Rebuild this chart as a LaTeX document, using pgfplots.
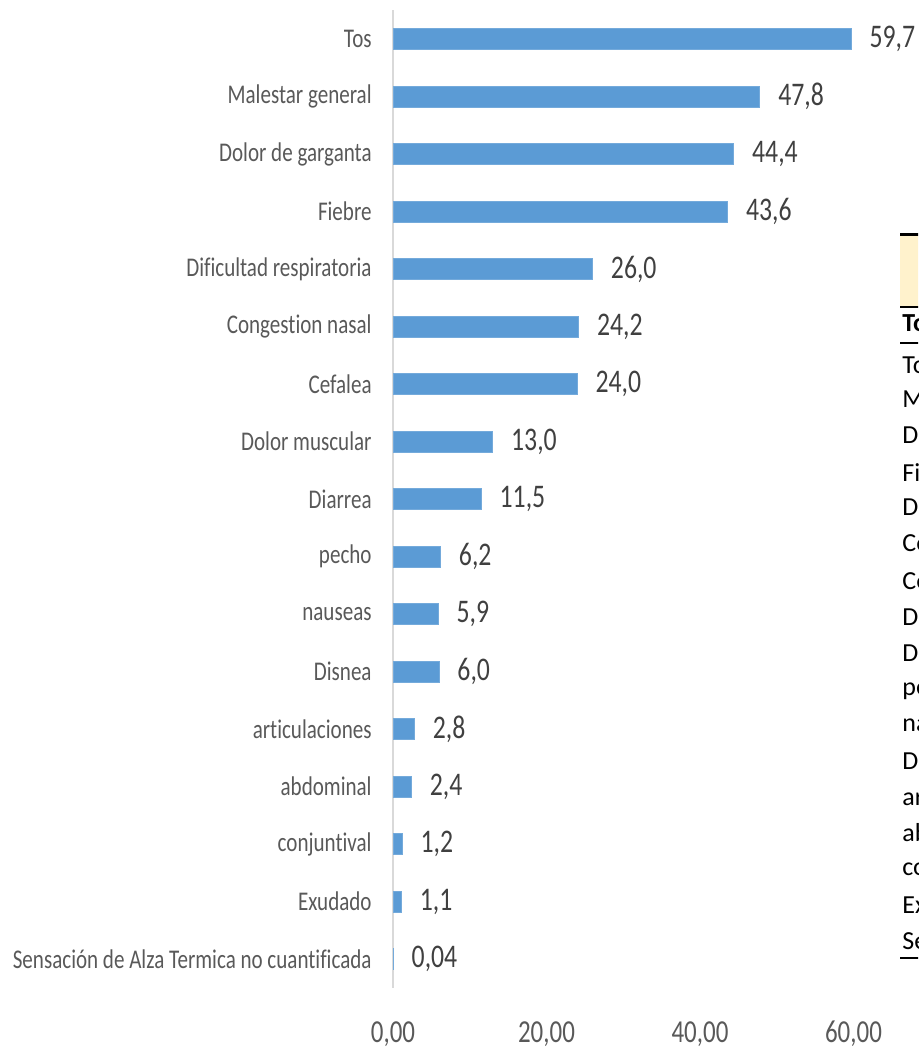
\documentclass[border=0pt]{standalone}
\usepackage{pgfplots}
\pgfplotsset{compat=1.18}
\usepackage{pgfplotstable}
\usepackage{fontspec}
\setmainfont{Carlito}[FakeStretch=0.78, Ligatures=NoCommon]
\newfontfamily\tabfont{Carlito}[Ligatures=NoCommon]

\definecolor{barblue}{HTML}{5B9BD5}
\definecolor{axgray}{HTML}{D9D9D9}
\definecolor{lblgray}{HTML}{595959}
\definecolor{valgray}{HTML}{404040}
\definecolor{paleyel}{HTML}{FFF2CC}

\pgfplotstableread{
i v lab
0 59.7 59,7
1 47.8 47,8
2 44.4 44,4
3 43.6 43,6
4 26.0 26,0
5 24.2 24,2
6 24.0 24,0
7 13.0 13,0
8 11.5 11,5
9 6.2 6,2
10 5.9 5,9
11 6.0 6,0
12 2.8 2,8
13 2.4 2,4
14 1.2 1,2
15 1.1 1,1
16 0.04 0,04
}\sintomas

\begin{document}
\fontsize{13.5}{16}\selectfont
\begin{tikzpicture}[x=0.5pt,y=-0.5pt]
\useasboundingbox (0,0) rectangle (918,1053);
\clip (0,0) rectangle (918,1053);

\begin{axis}[
    at={(196.5pt,-493.875pt)}, anchor=south west,
    scale only axis,
    width=230.25pt, height=488.75pt,
    xbar, bar width=10.5pt, bar shift=0pt,
    xmin=0, xmax=60,
    ymin=-0.5, ymax=16.5,
    y dir=reverse,
    axis x line=none,
    axis y line*=left,
    y axis line style={draw=axgray, line width=1pt},
    ytick={0,...,16},
    yticklabels={Tos, Malestar general, Dolor de garganta, Fiebre,
        Dificultad respiratoria, Congestion nasal, Cefalea, Dolor muscular,
        Diarrea, pecho, nauseas, Disnea, articulaciones, abdominal,
        conjuntival, Exudado, Sensación de Alza Termica no cuantificada},
    major tick length=0pt,
    yticklabel style={anchor=east, inner sep=0pt, xshift=-10.5pt, text=lblgray},
    clip=false,
    nodes near coords,
    point meta=explicit symbolic,
    nodes near coords style={anchor=west, inner sep=0pt, xshift=9pt,
        font=\fontsize{16.5}{19}\selectfont, text=valgray},
]
\addplot[fill=barblue, draw=barblue!85!white, line width=0.4pt]
    table[x=v, y=i, meta=lab] {\sintomas};

% x tick labels under the axis (the reference has no x axis line)
\path (axis cs:0,16.5) node[anchor=base, yshift=-27.6pt,
        font=\fontsize{16}{19}\selectfont, text=lblgray] {0,00};
\path (axis cs:20,16.5) node[anchor=base, yshift=-27.6pt,
        font=\fontsize{16}{19}\selectfont, text=lblgray] {20,00};
\path (axis cs:40,16.5) node[anchor=base, yshift=-27.6pt,
        font=\fontsize{16}{19}\selectfont, text=lblgray] {40,00};
\path (axis cs:60,16.5) node[anchor=base, yshift=-27.6pt,
        font=\fontsize{16}{19}\selectfont, text=lblgray] {60,00};
\end{axis}

% fragment of the table that overlaps on the right
\fill[paleyel] (900,235) rectangle (920,307);
\draw[line width=1.5pt] (900,235) -- (920,235);
\draw[line width=1pt] (900,307) -- (920,307);
\draw[line width=1pt] (900,343) -- (920,343);
\draw[line width=1pt] (900,958) -- (920,958);
\node[anchor=west, inner sep=0pt, font=\tabfont\bfseries\fontsize{13}{15}\selectfont] at (902,322) {Total};
\foreach \w [count=\k from 0] in {Tos, Malestar general, Dolor de garganta, Fiebre,
        Dificultad respiratoria, Congestion nasal, Cefalea, Dolor muscular,
        Diarrea, pecho, nauseas, Disnea, articulaciones, abdominal,
        conjuntival, Exudado, Sensación}
    \node[anchor=west, inner sep=0pt, font=\tabfont\fontsize{13}{15}\selectfont]
        at (902,{365+36*\k}) {\w};
\end{tikzpicture}
\end{document}
